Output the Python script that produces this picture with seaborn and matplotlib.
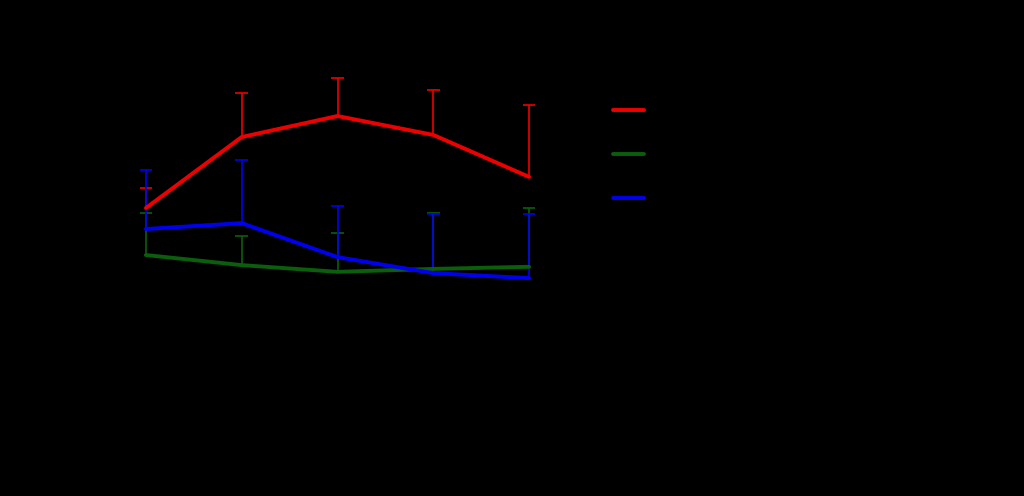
import matplotlib
matplotlib.use("Agg")
import matplotlib.pyplot as plt
import seaborn as sns
import pandas as pd
import numpy as np

# ---- data ----
timepoints = ["T1", "T2", "T3", "T4", "T5"]
series_names = ["Group A", "Group B", "Group C"]
group_a_mean = [60.0, 76.9, 81.9, 77.4, 67.4]
group_a_err = [4.8, 10.5, 9.1, 10.7, 17.1]
group_b_mean = [48.8, 46.4, 44.8, 45.5, 46.0]
group_b_err = [10.0, 6.9, 9.2, 13.3, 14.0]
group_c_mean = [55.0, 56.4, 48.3, 44.5, 43.3]
group_c_err = [14.0, 15.0, 12.2, 14.1, 15.3]

colors = ["#ee0000", "#0b5e0b", "#0000ee"]

sns.set_theme(style="white")
plt.rcParams["font.family"] = ["DejaVu Sans"]

rows = []
for name, means in zip(series_names, [group_a_mean, group_b_mean, group_c_mean]):
    for i, (t, m) in enumerate(zip(timepoints, means)):
        rows.append({"time": i, "label": t, "value": m, "group": name})
df = pd.DataFrame(rows)

fig = plt.figure(figsize=(10.24, 4.96), dpi=100, facecolor="black")
ax = fig.add_axes([98 / 1024, 57 / 496, (577 - 98) / 1024, 399 / 496])
ax.set_facecolor("black")

# error bars (upper only)
for name, means, errs, c in zip(series_names,
                                [group_a_mean, group_b_mean, group_c_mean],
                                [group_a_err, group_b_err, group_c_err],
                                colors):
    xs = np.arange(len(means))
    tops = np.array(means) + np.array(errs)
    ax.vlines(xs, means, tops, color=c, lw=1.2, zorder=2)
    ax.hlines(tops, xs - 0.065, xs + 0.065, color=c, lw=1.2, zorder=2)

sns.lineplot(data=df, x="time", y="value", hue="group", palette=colors,
             linewidth=2.8, ax=ax, legend=True, zorder=3)

ax.set_xlim(-0.5, 4.5)
ax.set_ylim(5, 100)
ax.set_xticks(range(len(timepoints)))
ax.set_xticklabels(timepoints, color="black")
ax.tick_params(colors="black")
ax.set_xlabel("Time", color="black")
ax.set_ylabel("Value", color="black")
for s in ax.spines.values():
    s.set_color("black")

leg = ax.legend(loc="upper left", bbox_to_anchor=(613 / 1024, 1 - 102 / 496),
                bbox_transform=fig.transFigure, frameon=False,
                fontsize=14, handlelength=1.6, labelspacing=1.28,
                borderpad=0, borderaxespad=0)
for t in leg.get_texts():
    t.set_color("black")
for l in leg.get_lines():
    l.set_linewidth(2.8)

fig.savefig("out.png", dpi=100, facecolor="black")
